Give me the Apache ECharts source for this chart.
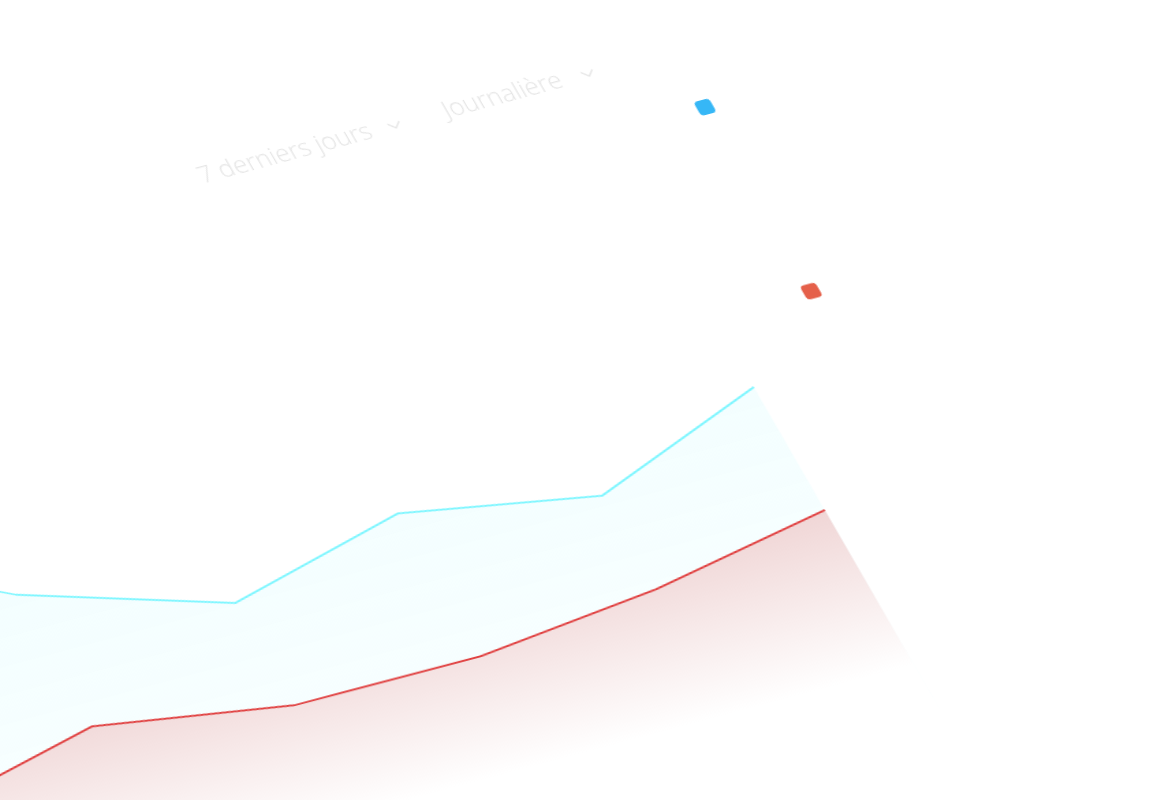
<!DOCTYPE html>
<html>
<head>
<meta charset="utf-8">
<script src="https://cdn.jsdelivr.net/npm/echarts@6/dist/echarts.min.js"></script>
<style>
    html, body { margin: 0; padding: 0; background: #fff; overflow: hidden; width: 1152px; height: 800px; }
    #chart {
        position: absolute; left: 0; top: 0;
        width: 1750px; height: 1120px;
        transform-origin: 0 0;
        transform: matrix(0.9659, -0.2588, 0.5, 0.866, -676.1, 181.2);
    }
</style>
</head>
<body>
<div id="chart"></div>
<script>
// data
const days = ['Lun', 'Mar', 'Mer', 'Jeu', 'Ven', 'Sam', 'Dim'];
const visites = [400, 470, 361, 294, 340, 303, 371];
const ventes = [150, 166, 209, 176, 175, 195, 229];
const seriesNames = ['Visites', 'Ventes'];
const filters = ['7 derniers jours', 'Journalière'];

const chart = echarts.init(document.getElementById('chart'));

function chevron(cx, cy) {
    return {
        type: 'polyline',
        shape: { points: [[cx - 6, cy - 3], [cx, cy + 3], [cx + 6, cy - 3]] },
        style: { stroke: '#e6e6e6', lineWidth: 1.5, fill: null }
    };
}

const filterFont = '300 25px "Open Sans"';

chart.setOption({
    animation: false,
    grid: { left: 22, right: 574.5, top: 460, bottom: 160 },
    xAxis: { type: 'category', data: days, boundaryGap: false, show: false },
    yAxis: { type: 'value', min: 0, max: 500, show: false },
    legend: {
        orient: 'vertical',
        left: 1268.6, top: 288,
        padding: 0,
        itemWidth: 16, itemHeight: 16, itemGap: 196.4,
        icon: 'roundRect',
        formatter: () => '',
        data: seriesNames
    },
    graphic: [
        { type: 'text', x: 787, y: 243, style: { text: filters[0], font: filterFont, fill: '#e6e6e6', verticalAlign: 'bottom' } },
        chevron(989, 231),
        { type: 'text', x: 1040, y: 243, style: { text: filters[1], font: filterFont, fill: '#e6e6e6', verticalAlign: 'bottom' } },
        chevron(1189, 231)
    ],
    series: [
        {
            name: seriesNames[0],
            type: 'line',
            data: visites,
            showSymbol: false,
            itemStyle: { color: '#36b7f6' },
            lineStyle: { color: '#7ef6ff', width: 2 },
            areaStyle: {
                color: new echarts.graphic.LinearGradient(0, 0, 0, 1, [
                    { offset: 0, color: 'rgba(126,246,255,0.15)' },
                    { offset: 1, color: 'rgba(126,246,255,0.06)' }
                ])
            }
        },
        {
            name: seriesNames[1],
            type: 'line',
            data: ventes,
            showSymbol: false,
            itemStyle: { color: '#e5604a' },
            lineStyle: { color: '#e04040', width: 2 },
            areaStyle: {
                opacity: 1,
                color: new echarts.graphic.LinearGradient(0, 0, 0, 1, [
                    { offset: 0, color: 'rgb(240,214,214)' },
                    { offset: 0.78, color: 'rgb(255,255,255)' },
                    { offset: 1, color: 'rgb(255,255,255)' }
                ])
            }
        }
    ]
});
</script>
</body>
</html>
